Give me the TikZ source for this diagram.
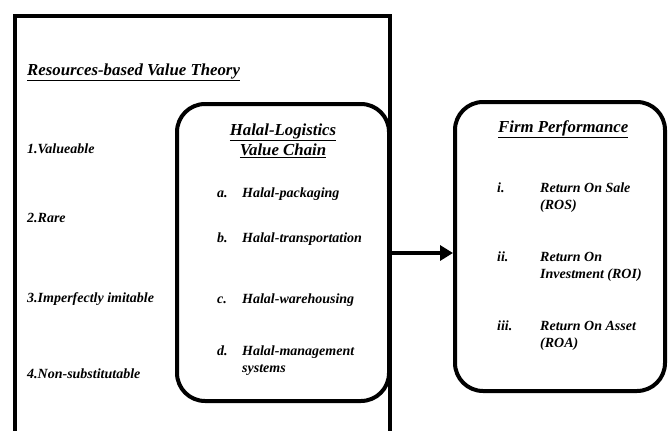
\documentclass[tikz,border=0pt]{standalone}
\usepackage{fontspec}
\setmainfont{Liberation Serif}
\usetikzlibrary{arrows.meta}
\tikzset{
    TX/.style ={font=\bfseries\itshape\fontsize{14}{17}\selectfont, inner sep=0pt, anchor=base west, align=left},
    TT/.style ={font=\bfseries\itshape\fontsize{16.8}{20}\selectfont, inner sep=0pt, align=center},
    RB/.style ={rectangle, rounded corners=28pt, line width=4pt, draw, fill=white},
    AR/.style ={-{Triangle[length=13pt,width=15pt]}, line width=4pt}}

\begin{document}
\begin{tikzpicture}[x=1pt,y=-1pt]
        \useasboundingbox (0,0) rectangle (670,431);
        \draw[line width=4pt] (15,450) -- (15,16) -- (390,16) -- (390,450);
        \node[TT, anchor=base west] (rbvt) at (27,75) {\underline{Resources-based Value Theory}};
        \foreach \n/\t/\y in {1/Valueable/153, 2/Rare/222, 3/Imperfectly imitable/302, 4/Non-substitutable/378}{
            \node[TX] (rbv\n) at (27,\y) {\n.\t};}
        \draw (283,252.5) node[RB, minimum width=212pt, minimum height=297pt] (hlvc) {};
        \node[TT] (hlvct) at (283,141) {\underline{Halal-Logistics}\\\underline{Value Chain}};
        \draw (217,197) node[TX] (la) {a.};
        \draw (242,197) node[TX] (ha) {Halal-packaging};
        \draw (217,242) node[TX] (lb) {b.};
        \draw (242,242) node[TX] (hb) {Halal-transportation};
        \draw (217,303) node[TX] (lc) {c.};
        \draw (242,303) node[TX] (hc) {Halal-warehousing};
        \draw (217,355) node[TX] (ld) {d.};
        \draw (242,372) node[TX] (hd) {Halal-management\\systems};
        \draw (560,246.5) node[RB, minimum width=210pt, minimum height=289pt] (fp) {};
        \node[TT, anchor=base west] (fpt) at (498,132) {\underline{Firm Performance}};
        \draw (497,192) node[TX] (li) {i.};
        \draw (540,209) node[TX] (ri) {Return On Sale\\(ROS)};
        \draw (497,261) node[TX] (lii) {ii.};
        \draw (540,278) node[TX] (rii) {Return On\\Investment (ROI)};
        \draw (497,330) node[TX] (liii) {iii.};
        \draw (540,347) node[TX] (riii) {Return On Asset\\(ROA)};
        \draw[AR] (hlvc.east |- 0,253) -- (fp.west |- 0,253);
    \end{tikzpicture}
\end{document}
